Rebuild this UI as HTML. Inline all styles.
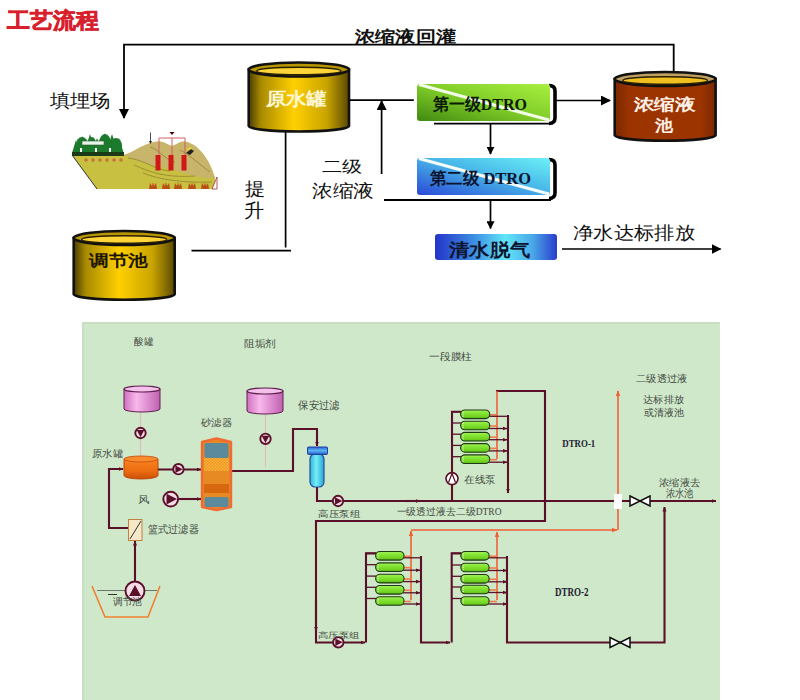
<!DOCTYPE html>
<html><head><meta charset="utf-8">
<style>
html,body{margin:0;padding:0;background:#fff;width:800px;height:700px;overflow:hidden}
svg{display:block}
text{font-family:"Liberation Serif",serif}
.s{font-family:"Liberation Sans",sans-serif}
</style></head><body>
<svg width="800" height="700" viewBox="0 0 800 700">
<defs>
<linearGradient id="gold" x1="0" x2="1" y1="0" y2="0">
<stop offset="0" stop-color="#4a3c00"/>
<stop offset="0.12" stop-color="#a88a00"/>
<stop offset="0.45" stop-color="#ffd000"/>
<stop offset="0.78" stop-color="#c8a400"/>
<stop offset="1" stop-color="#5a4800"/>
</linearGradient>
<linearGradient id="rust" x1="0" x2="1" y1="0" y2="0">
<stop offset="0" stop-color="#7a2800"/>
<stop offset="0.15" stop-color="#9c3400"/>
<stop offset="0.85" stop-color="#9c3400"/>
<stop offset="1" stop-color="#7a2800"/>
</linearGradient>
<marker id="ar2" viewBox="0 0 10 10" refX="9" refY="5" markerWidth="8" markerHeight="8" markerUnits="userSpaceOnUse" orient="auto"><path d="M0,0 L10,5 L0,10 z" fill="#000"/></marker>
<marker id="ar" viewBox="0 0 10 10" refX="9" refY="5" markerWidth="10" markerHeight="10" markerUnits="userSpaceOnUse" orient="auto"><path d="M0,0 L10,5 L0,10 z" fill="#000"/></marker>
</defs>

<!-- title -->

<!-- recirculation line -->
<path d="M673.7,72 V44.6 H124 V118" fill="none" stroke="#000" stroke-width="1.8" marker-end="url(#ar)"/>

<!-- tanks -->
<path d="M248.7,69.5 V126.0 A50.150000000000006,5.5 0 0 0 349,126.0 V69.5 Z" fill="url(#gold)" stroke="#111" stroke-width="2.6"/>
<ellipse cx="298.85" cy="69.5" rx="50.150000000000006" ry="7" fill="#b89600" stroke="#111" stroke-width="2.6"/>
<ellipse cx="298.85" cy="71.0" rx="42.150000000000006" ry="3.8" fill="#ffd438" stroke="#2a2000" stroke-width="1.4"/>
<path d="M73.7,238 V294.2 A50.49999999999999,5.5 0 0 0 174.7,294.2 V238 Z" fill="url(#gold)" stroke="#111" stroke-width="2.6"/>
<ellipse cx="124.19999999999999" cy="238" rx="50.49999999999999" ry="7" fill="#b89600" stroke="#111" stroke-width="2.6"/>
<ellipse cx="124.19999999999999" cy="239.5" rx="42.49999999999999" ry="3.8" fill="#ffd438" stroke="#2a2000" stroke-width="1.4"/>
<path d="M614.7,79 V135.2 A50.44999999999999,5.5 0 0 0 715.6,135.2 V79 Z" fill="url(#rust)" stroke="#111" stroke-width="2.6"/>
<ellipse cx="665.1500000000001" cy="79" rx="50.44999999999999" ry="7" fill="#c0a060" stroke="#111" stroke-width="2.6"/>
<ellipse cx="665.1500000000001" cy="80.5" rx="42.44999999999999" ry="3.8" fill="#f0c020" stroke="#2a2000" stroke-width="1.4"/>

<!-- lines -->
<g stroke="#000" stroke-width="1.7" fill="none">
<path d="M349,100.2 H413.8"/>
<path d="M381.6,174 V101" marker-end="url(#ar)"/>
<path d="M285.6,132 V247.5"/>
<path d="M191.5,250.6 H291"/>
<path d="M556,100.5 H610" marker-end="url(#ar)"/>
<path d="M490.5,124 V154" marker-end="url(#ar2)"/>
<path d="M490.5,199 V228.5" marker-end="url(#ar2)"/>
<path d="M562,249 H720.5" marker-end="url(#ar)"/>
</g>

<!-- DTRO boxes -->
<defs>
<linearGradient id="g1" x1="1" y1="0" x2="0" y2="1">
<stop offset="0" stop-color="#a8f040"/><stop offset="0.5" stop-color="#80cc28"/><stop offset="1" stop-color="#408a10"/>
</linearGradient>
<linearGradient id="g2" x1="1" y1="0" x2="0" y2="1">
<stop offset="0" stop-color="#6cf0f8"/><stop offset="0.45" stop-color="#48b8e8"/><stop offset="1" stop-color="#2a48d8"/>
</linearGradient>
<linearGradient id="g3" x1="0" y1="0" x2="1" y2="0">
<stop offset="0" stop-color="#2434c8"/><stop offset="0.3" stop-color="#3a88e0"/><stop offset="0.58" stop-color="#62e6f8"/><stop offset="0.8" stop-color="#4aa8e8"/><stop offset="1" stop-color="#2a3ccc"/>
</linearGradient>
</defs>
<path d="M549,85.5 Q555,85.5 555,91 V118 Q555,123.5 549,123.5" stroke="#000" stroke-width="3.6" fill="none"/>
<path d="M434,123.6 H551" stroke="#000" stroke-width="1.8"/>
<rect x="417" y="84" width="133" height="37" rx="3" fill="url(#g1)"/>
<path d="M419,84.5 L549,120" stroke="#f2fae8" stroke-width="3.2"/>

<path d="M549,159.5 Q555,159.5 555,165 V193 Q555,198.5 549,198.5" stroke="#000" stroke-width="3.6" fill="none"/>
<path d="M384,200 H551" stroke="#000" stroke-width="1.8"/>
<rect x="417" y="158" width="133" height="37" rx="3" fill="url(#g2)"/>
<path d="M419,158.5 L549,194" stroke="#f2fafa" stroke-width="3.2"/>

<rect x="435" y="234" width="122" height="26" rx="3" fill="url(#g3)"/>

<!-- landfill -->
<g>
<path d="M72,155 L124,155 C135,152 145,142 159,141.5 C165,141.5 169,146 172,146 C176,145 179,141.5 184,141.5 C198,143 210,160 215,178 L215,189 L97,189 Z" fill="#c8c040"/>
<path d="M124,155 C135,152 145,142 159,141.5 C165,141.5 169,146 172,146 C176,145 179,141.5 184,141.5 C198,143 210,160 215,178 L205,178 C190,176 178,170 165,168 C150,166 135,160 124,155 Z" fill="#c8b46a"/>
<path d="M128,158 C145,160 155,170 170,171 M134,165 C150,172 165,178 195,176 M143,173 C160,180 185,183 212,182 M150,147 C160,150 165,160 175,162 M180,150 C190,155 200,165 210,172" stroke="#8a7a30" stroke-width="0.7" fill="none"/>
<path d="M72,155 L97,189" stroke="#333" stroke-width="1"/>
<g fill="#1c7a2c">
<path d="M72,153 L76,140 L80,153 Z"/><path d="M76,153 L82,136 L88,153 Z"/><path d="M84,153 L90,134 L96,153 Z"/>
<path d="M92,153 L97,138 L102,153 Z"/><path d="M99,153 L105,133 L111,153 Z"/><path d="M106,153 L112,134 L118,153 Z"/><path d="M113,154 L119,138 L124,154 Z"/>
<ellipse cx="82" cy="145" rx="6" ry="8"/><ellipse cx="105" cy="143" rx="6" ry="9"/><ellipse cx="116" cy="146" rx="6" ry="8"/><ellipse cx="92" cy="144" rx="4" ry="7"/>
</g>
<path d="M72,152 H124 V156 H72 Z" fill="#1a3a18"/>
<rect x="82" y="141" width="22" height="4" fill="#e8f4e8" stroke="#2a5a2a" stroke-width="0.6"/>
<g fill="#fff"><rect x="80" y="148" width="2" height="4"/><rect x="95" y="148" width="2" height="4"/><rect x="109" y="148" width="2" height="4"/></g>
<g fill="#c87040"><circle cx="86" cy="160" r="1.8"/><circle cx="93" cy="160" r="1.8"/><circle cx="100" cy="160" r="1.8"/><circle cx="107" cy="160" r="1.8"/><circle cx="114" cy="160" r="1.8"/><circle cx="121" cy="160" r="1.8"/></g>
<path d="M159,155 V138 H185 V155 M172,138 V155" stroke="#d06060" stroke-width="1" fill="none"/>
<g fill="#d01818"><rect x="155.5" y="155" width="5" height="15.5"/><rect x="168.5" y="155" width="5" height="15.5"/><rect x="181.5" y="155" width="5" height="15.5"/></g>
<path d="M169.5,132 h5 l-2.5,3 z" fill="#500"/>
<path d="M150.5,132.5 V143" stroke="#222" stroke-width="0.8"/><path d="M149,141 l1.5,3 l1.5,-3 z" fill="#222"/>
<g fill="#b85018"><path d="M149,189 l1,-6 l2,3 l1,-4 l1,4 l2,-3 l1,6 z"/><path d="M162,189 l1,-6 l2,3 l1,-4 l1,4 l2,-3 l1,6 z"/><path d="M174,189 l1,-6 l2,3 l1,-4 l1,4 l2,-3 l1,6 z"/><path d="M188,189 l1,-6 l2,3 l1,-4 l1,4 l2,-3 l1,6 z"/><path d="M201,189 l1,-6 l2,3 l1,-4 l1,4 l2,-3 l1,6 z"/></g>
<path d="M212,189 L217,177 V189 Z" fill="#fff" stroke="#a03030" stroke-width="0.8"/>
<path d="M186,153 l5,-4 l3,2 l-4,4 z" fill="#222"/><path d="M186,150 l4,-3 l2,2 z" fill="#f0e020"/>
</g>
<!-- panel -->
<rect x="82" y="322" width="638" height="378" fill="#d0e8ca"/>
<path d="M83,700 V323 H719" fill="none" stroke="#c6d8c2" stroke-width="1.5"/>
<defs>
<linearGradient id="pink" x1="0" x2="1" y1="0" y2="0">
<stop offset="0" stop-color="#d070c0"/><stop offset="0.35" stop-color="#f8b8ec"/><stop offset="1" stop-color="#c060b0"/>
</linearGradient>
<linearGradient id="orng" x1="0" x2="0" y1="0" y2="1">
<stop offset="0" stop-color="#fa8424"/><stop offset="0.6" stop-color="#ec6c10"/><stop offset="1" stop-color="#c85008"/>
</linearGradient>
<linearGradient id="cyl" x1="0" x2="0" y1="0" y2="1">
<stop offset="0" stop-color="#a8f060"/><stop offset="0.3" stop-color="#88e838"/><stop offset="0.8" stop-color="#70d020"/><stop offset="1" stop-color="#50a818"/>
</linearGradient>
<linearGradient id="cart" x1="0" x2="1" y1="0" y2="0">
<stop offset="0" stop-color="#38b0d8"/><stop offset="0.45" stop-color="#70f0fa"/><stop offset="1" stop-color="#30a0d0"/>
</linearGradient>
<linearGradient id="cap" x1="0" x2="0" y1="0" y2="1"><stop offset="0" stop-color="#3060d8"/><stop offset="0.5" stop-color="#58b8f0"/><stop offset="1" stop-color="#2850c8"/></linearGradient>
<pattern id="chk" width="3" height="3" patternUnits="userSpaceOnUse">
<rect width="3" height="3" fill="#f08a20"/><rect width="1.5" height="1.5" fill="#f8c040"/><rect x="1.5" y="1.5" width="1.5" height="1.5" fill="#f8c040"/>
</pattern>
<marker id="am" viewBox="0 0 10 10" refX="9" refY="5" markerWidth="5" markerHeight="5" markerUnits="userSpaceOnUse" orient="auto"><path d="M0,1 L10,5 L0,9 z" fill="#5a1028"/></marker>
<marker id="ao" viewBox="0 0 10 10" refX="9" refY="5" markerWidth="6" markerHeight="6" markerUnits="userSpaceOnUse" orient="auto"><path d="M0,1 L10,5 L0,9 z" fill="#f06030"/></marker>
<marker id="ak" viewBox="0 0 10 10" refX="9" refY="5" markerWidth="7" markerHeight="7" markerUnits="userSpaceOnUse" orient="auto"><path d="M0,1 L10,5 L0,9 z" fill="#111"/></marker>
<g id="pumpR"><circle r="5.2" fill="#f4dce8" stroke="#5a1028" stroke-width="1.9"/><path d="M-3,-3.8 L4.3,0 L-3,3.8 z" fill="#5a1028"/></g>
<g id="pumpD"><circle r="5.2" fill="#f4dce8" stroke="#5a1028" stroke-width="1.9"/><path d="M-3.8,-3 L3.8,-3 L0,4.3 z" fill="#5a1028"/></g>
<g id="mod">
<path d="M0,0 V-5" fill="none"/>
</g>
</defs>

<!-- chemical tanks -->
<path d="M140.5,412 V456" stroke="#e0bcbc" stroke-width="1.2"/>
<path d="M124,389 V409 A18,3 0 0 0 160,409 V389 Z" fill="url(#pink)" stroke="#602050" stroke-width="1"/>
<ellipse cx="142" cy="389" rx="18" ry="3" fill="#f4c0ec" stroke="#602050" stroke-width="1.2"/>
<use href="#pumpD" x="140.5" y="433"/>
<path d="M265.5,414 V467" stroke="#e0bcbc" stroke-width="1.2"/>
<path d="M247,391 V411 A18,3 0 0 0 283,411 V391 Z" fill="url(#pink)" stroke="#602050" stroke-width="1"/>
<ellipse cx="265" cy="391" rx="18" ry="3" fill="#f4c0ec" stroke="#602050" stroke-width="1.2"/>
<use href="#pumpD" x="265.5" y="438.8"/>

<!-- raw water tank -->
<path d="M124,459 V475.5 A17,3.5 0 0 0 158,475.5 V459 Z" fill="url(#orng)" stroke="#c04808" stroke-width="1"/>
<ellipse cx="141" cy="459" rx="17" ry="3" fill="#f88c2c" stroke="#c85010" stroke-width="0.9"/>

<!-- pipes maroon -->
<g fill="none" stroke="#5a1028" stroke-width="2.1">
<path d="M158,469.5 H201" marker-end="url(#am)"/>
<path d="M134,540 V528 H109 V469 H123" marker-end="url(#am)"/>
<path d="M135,582 V541" marker-end="url(#am)"/>
<path d="M178,499 H201" marker-end="url(#am)"/>
<path d="M232,471 H293 V429 H317 V446" marker-end="url(#am)"/>
<path d="M317,487 V501 H716" marker-end="url(#am)"/>
<path d="M545,391 V521 H316 V642.5 H365" marker-end="url(#am)"/>
<path d="M316,600 V631" marker-end="url(#am)"/>
<path d="M496,391 H546"/>
<path d="M421,556 V642.5 H450" marker-end="url(#am)"/>
<path d="M451.7,642.5 V553.4 H461"/>
<path d="M366,642.5 V553.4 H376"/>
<path d="M507,556 V642.5 H664.5 V507" marker-end="url(#am)"/>
<path d="M452,501 V411.8 H461"/>
<path d="M405,501 H420" marker-end="url(#am)"/>
<path d="M508,415 V493" marker-end="url(#am)"/>
</g>
<use href="#pumpR" x="178.4" y="469.2"/>
<g><circle cx="170.7" cy="499.1" r="7.4" fill="#f4dce8" stroke="#5a1028" stroke-width="1.9"/><path d="M166.5,493.8 L177,499.1 L166.5,504.4 z" fill="#5a1028"/></g>
<use href="#pumpR" x="338" y="501"/>
<use href="#pumpR" x="338.3" y="642.3"/>

<!-- sand filter -->
<path d="M202,442 L216.5,438.5 L231,442 V507 L216.5,510 L202,507 Z" fill="#e88a24" stroke="#f06a34" stroke-width="2.4" stroke-linejoin="round"/>
<rect x="204.5" y="443" width="24" height="15" rx="2" fill="#5a8a9c"/>
<rect x="204" y="458" width="25" height="13" fill="url(#chk)"/>
<rect x="204" y="484" width="25" height="9" fill="#d86810"/>
<rect x="204.5" y="497" width="24" height="10" rx="2" fill="#5a8a9c"/>

<!-- cartridge -->
<rect x="310" y="454" width="14" height="33" rx="5" fill="url(#cart)" stroke="#2050a0" stroke-width="1.2"/>
<rect x="307.5" y="447" width="20" height="7.5" rx="1" fill="url(#cap)" stroke="#2040a0" stroke-width="1"/>

<!-- basket filter & basin -->
<rect x="128.5" y="519.5" width="13.5" height="21" fill="#f4e8c8" stroke="#c08040" stroke-width="1"/>
<path d="M130,539 L141,521" stroke="#333" stroke-width="1"/>
<path d="M92,586 L105,617 H148 L160,586" fill="none" stroke="#f08030" stroke-width="1.6"/>
<path d="M97,590.5 H157" stroke="#555" stroke-width="0.8"/>
<path d="M108,594.5 H117" stroke="#333" stroke-width="1"/>
<circle cx="135" cy="591" r="9.5" fill="#f4dce8" stroke="#5a1028" stroke-width="1.9"/>
<path d="M135,585 L141,596 H129 z" fill="#5a1028"/>

<!-- orange permeate lines -->
<g fill="none" stroke="#f06038" stroke-width="1.6">
<path d="M618,530 V391" marker-end="url(#ao)"/>
<path d="M411,600 V531" marker-end="url(#ao)"/>
<path d="M411,530 H617" marker-end="url(#ao)"/>
<path d="M497,600 V532" marker-end="url(#ao)"/>
<path d="M497,459 V391"/>
</g>

<!-- membrane modules -->
<path d="M452,411.8 H461.6" stroke="#5a1028" stroke-width="1.3"/>
<path d="M452,423.0 H461.6" stroke="#5a1028" stroke-width="1.3"/>
<path d="M452,434.2 H461.6" stroke="#5a1028" stroke-width="1.3"/>
<path d="M452,445.4 H461.6" stroke="#5a1028" stroke-width="1.3"/>
<path d="M452,456.7 H461.6" stroke="#5a1028" stroke-width="1.3"/>
<path d="M488.7,414.8 H497" stroke="#f07a48" stroke-width="1.6"/>
<path d="M488.7,426.0 H497" stroke="#f07a48" stroke-width="1.6"/>
<path d="M488.7,437.2 H497" stroke="#f07a48" stroke-width="1.6"/>
<path d="M488.7,448.4 H497" stroke="#f07a48" stroke-width="1.6"/>
<path d="M488.7,459.7 H497" stroke="#f07a48" stroke-width="1.6"/>
<path d="M488.7,416.3 H508" stroke="#5a1028" stroke-width="1.3"/>
<path d="M488.7,428.5 H507" stroke="#5a1028" stroke-width="1.3" marker-end="url(#am)"/>
<path d="M488.7,439.7 H507" stroke="#5a1028" stroke-width="1.3" marker-end="url(#am)"/>
<path d="M488.7,450.9 H507" stroke="#5a1028" stroke-width="1.3" marker-end="url(#am)"/>
<path d="M488.7,462.2 H507" stroke="#5a1028" stroke-width="1.3" marker-end="url(#am)"/>
<rect x="460.6" y="410.0" width="29.099999999999966" height="8.6" rx="4.3" fill="url(#cyl)" stroke="#1e3a10" stroke-width="1.1"/>
<path d="M463.1,411.8 v5" stroke="#e8f0e0" stroke-width="1.2" stroke-dasharray="1,1"/>
<rect x="460.6" y="421.2" width="29.099999999999966" height="8.6" rx="4.3" fill="url(#cyl)" stroke="#1e3a10" stroke-width="1.1"/>
<path d="M463.1,423.0 v5" stroke="#e8f0e0" stroke-width="1.2" stroke-dasharray="1,1"/>
<rect x="460.6" y="432.4" width="29.099999999999966" height="8.6" rx="4.3" fill="url(#cyl)" stroke="#1e3a10" stroke-width="1.1"/>
<path d="M463.1,434.2 v5" stroke="#e8f0e0" stroke-width="1.2" stroke-dasharray="1,1"/>
<rect x="460.6" y="443.6" width="29.099999999999966" height="8.6" rx="4.3" fill="url(#cyl)" stroke="#1e3a10" stroke-width="1.1"/>
<path d="M463.1,445.4 v5" stroke="#e8f0e0" stroke-width="1.2" stroke-dasharray="1,1"/>
<rect x="460.6" y="454.9" width="29.099999999999966" height="8.6" rx="4.3" fill="url(#cyl)" stroke="#1e3a10" stroke-width="1.1"/>
<path d="M463.1,456.7 v5" stroke="#e8f0e0" stroke-width="1.2" stroke-dasharray="1,1"/>
<path d="M366,553.3 H376.6" stroke="#5a1028" stroke-width="1.3"/>
<path d="M366,564.7 H376.6" stroke="#5a1028" stroke-width="1.3"/>
<path d="M366,576.1 H376.6" stroke="#5a1028" stroke-width="1.3"/>
<path d="M366,587.3 H376.6" stroke="#5a1028" stroke-width="1.3"/>
<path d="M366,598.5 H376.6" stroke="#5a1028" stroke-width="1.3"/>
<path d="M403,556.3 H411" stroke="#f07a48" stroke-width="1.6"/>
<path d="M403,567.7 H411" stroke="#f07a48" stroke-width="1.6"/>
<path d="M403,579.1 H411" stroke="#f07a48" stroke-width="1.6"/>
<path d="M403,590.3 H411" stroke="#f07a48" stroke-width="1.6"/>
<path d="M403,601.5 H411" stroke="#f07a48" stroke-width="1.6"/>
<path d="M403,557.8 H421" stroke="#5a1028" stroke-width="1.3"/>
<path d="M403,570.2 H420" stroke="#5a1028" stroke-width="1.3" marker-end="url(#am)"/>
<path d="M403,581.6 H420" stroke="#5a1028" stroke-width="1.3" marker-end="url(#am)"/>
<path d="M403,592.8 H420" stroke="#5a1028" stroke-width="1.3" marker-end="url(#am)"/>
<path d="M403,604.0 H420" stroke="#5a1028" stroke-width="1.3" marker-end="url(#am)"/>
<rect x="375.6" y="551.5" width="28.399999999999977" height="8.6" rx="4.3" fill="url(#cyl)" stroke="#1e3a10" stroke-width="1.1"/>
<path d="M378.1,553.3 v5" stroke="#e8f0e0" stroke-width="1.2" stroke-dasharray="1,1"/>
<rect x="375.6" y="562.9" width="28.399999999999977" height="8.6" rx="4.3" fill="url(#cyl)" stroke="#1e3a10" stroke-width="1.1"/>
<path d="M378.1,564.7 v5" stroke="#e8f0e0" stroke-width="1.2" stroke-dasharray="1,1"/>
<rect x="375.6" y="574.3" width="28.399999999999977" height="8.6" rx="4.3" fill="url(#cyl)" stroke="#1e3a10" stroke-width="1.1"/>
<path d="M378.1,576.1 v5" stroke="#e8f0e0" stroke-width="1.2" stroke-dasharray="1,1"/>
<rect x="375.6" y="585.5" width="28.399999999999977" height="8.6" rx="4.3" fill="url(#cyl)" stroke="#1e3a10" stroke-width="1.1"/>
<path d="M378.1,587.3 v5" stroke="#e8f0e0" stroke-width="1.2" stroke-dasharray="1,1"/>
<rect x="375.6" y="596.7" width="28.399999999999977" height="8.6" rx="4.3" fill="url(#cyl)" stroke="#1e3a10" stroke-width="1.1"/>
<path d="M378.1,598.5 v5" stroke="#e8f0e0" stroke-width="1.2" stroke-dasharray="1,1"/>
<path d="M451.7,553.3 H461.8" stroke="#5a1028" stroke-width="1.3"/>
<path d="M451.7,565.0 H461.8" stroke="#5a1028" stroke-width="1.3"/>
<path d="M451.7,576.3 H461.8" stroke="#5a1028" stroke-width="1.3"/>
<path d="M451.7,587.0 H461.8" stroke="#5a1028" stroke-width="1.3"/>
<path d="M451.7,598.5 H461.8" stroke="#5a1028" stroke-width="1.3"/>
<path d="M488.1,556.3 H497" stroke="#f07a48" stroke-width="1.6"/>
<path d="M488.1,568.0 H497" stroke="#f07a48" stroke-width="1.6"/>
<path d="M488.1,579.3 H497" stroke="#f07a48" stroke-width="1.6"/>
<path d="M488.1,590.0 H497" stroke="#f07a48" stroke-width="1.6"/>
<path d="M488.1,601.5 H497" stroke="#f07a48" stroke-width="1.6"/>
<path d="M488.1,557.8 H508" stroke="#5a1028" stroke-width="1.3"/>
<path d="M488.1,570.5 H507" stroke="#5a1028" stroke-width="1.3" marker-end="url(#am)"/>
<path d="M488.1,581.8 H507" stroke="#5a1028" stroke-width="1.3" marker-end="url(#am)"/>
<path d="M488.1,592.5 H507" stroke="#5a1028" stroke-width="1.3" marker-end="url(#am)"/>
<path d="M488.1,604.0 H507" stroke="#5a1028" stroke-width="1.3" marker-end="url(#am)"/>
<rect x="460.8" y="551.5" width="28.30000000000001" height="8.6" rx="4.3" fill="url(#cyl)" stroke="#1e3a10" stroke-width="1.1"/>
<path d="M463.3,553.3 v5" stroke="#e8f0e0" stroke-width="1.2" stroke-dasharray="1,1"/>
<rect x="460.8" y="563.2" width="28.30000000000001" height="8.6" rx="4.3" fill="url(#cyl)" stroke="#1e3a10" stroke-width="1.1"/>
<path d="M463.3,565.0 v5" stroke="#e8f0e0" stroke-width="1.2" stroke-dasharray="1,1"/>
<rect x="460.8" y="574.5" width="28.30000000000001" height="8.6" rx="4.3" fill="url(#cyl)" stroke="#1e3a10" stroke-width="1.1"/>
<path d="M463.3,576.3 v5" stroke="#e8f0e0" stroke-width="1.2" stroke-dasharray="1,1"/>
<rect x="460.8" y="585.2" width="28.30000000000001" height="8.6" rx="4.3" fill="url(#cyl)" stroke="#1e3a10" stroke-width="1.1"/>
<path d="M463.3,587.0 v5" stroke="#e8f0e0" stroke-width="1.2" stroke-dasharray="1,1"/>
<rect x="460.8" y="596.7" width="28.30000000000001" height="8.6" rx="4.3" fill="url(#cyl)" stroke="#1e3a10" stroke-width="1.1"/>
<path d="M463.3,598.5 v5" stroke="#e8f0e0" stroke-width="1.2" stroke-dasharray="1,1"/>
<g><circle cx="452" cy="478.6" r="6" fill="#fff" stroke="#5a1028" stroke-width="1.6"/><path d="M448.5,482.5 L452,473.5 L455.5,482.5" fill="none" stroke="#5a1028" stroke-width="1.2"/></g>
<rect x="614" y="494" width="8" height="15" fill="#fff"/>
<path d="M630,496 L650,506 V496 L630,506 Z" fill="#fff" stroke="#111" stroke-width="1.5"/>
<path d="M610,637.5 L630,647.5 V637.5 L610,647.5 Z" fill="#fff" stroke="#111" stroke-width="1.5"/>

<!--TEXTS-->
<text x="7.00" y="28.00" font-family="Liberation Sans" font-size="22.09" font-weight="bold" fill="#d8202c" stroke="#d8202c" stroke-width="0.6" textLength="92.00" lengthAdjust="spacingAndGlyphs">工艺流程</text>
<text x="355.00" y="42.00" font-family="Liberation Serif" font-size="16.06" font-weight="bold" fill="#111" textLength="101.00" lengthAdjust="spacingAndGlyphs">浓缩液回灌</text>
<text x="49.50" y="107.00" font-family="Liberation Serif" font-size="17.94" font-weight="500" fill="#111" textLength="61.00" lengthAdjust="spacingAndGlyphs">填埋场</text>
<text x="265.50" y="105.40" font-family="Liberation Serif" font-size="18.00" font-weight="bold" fill="#fff8d8" textLength="61.20" lengthAdjust="spacingAndGlyphs">原水罐</text>
<text x="89.00" y="265.50" font-family="Liberation Serif" font-size="16.01" font-weight="bold" fill="#1a1400" textLength="59.00" lengthAdjust="spacingAndGlyphs">调节池</text>
<text x="633.50" y="109.70" font-family="Liberation Serif" font-size="15.60" font-weight="bold" fill="#fff0e8" textLength="62.00" lengthAdjust="spacingAndGlyphs">浓缩液</text>
<text x="655.00" y="130.70" font-family="Liberation Serif" font-size="16.31" font-weight="bold" fill="#fff0e8" textLength="18.00" lengthAdjust="spacingAndGlyphs">池</text>
<text x="245.10" y="195.30" font-family="Liberation Serif" font-size="18.37" font-weight="500" fill="#111" textLength="20.20" lengthAdjust="spacingAndGlyphs">提</text>
<text x="244.10" y="216.80" font-family="Liberation Serif" font-size="18.58" font-weight="500" fill="#111" textLength="20.20" lengthAdjust="spacingAndGlyphs">升</text>
<text x="322.20" y="171.80" font-family="Liberation Serif" font-size="16.32" font-weight="500" fill="#111" textLength="40.40" lengthAdjust="spacingAndGlyphs">二级</text>
<text x="312.00" y="197.40" font-family="Liberation Serif" font-size="18.37" font-weight="500" fill="#111" textLength="62.00" lengthAdjust="spacingAndGlyphs">浓缩液</text>
<text x="573.00" y="239.00" font-family="Liberation Serif" font-size="18.06" font-weight="500" fill="#111" textLength="122.00" lengthAdjust="spacingAndGlyphs">净水达标排放</text>
<text x="433.00" y="110.00" font-family="Liberation Serif" font-size="17.07" font-weight="bold" fill="#0c1a08" textLength="94.00" lengthAdjust="spacingAndGlyphs">第一级DTRO</text>
<text x="430.00" y="184.00" font-family="Liberation Serif" font-size="17.00" font-weight="bold" fill="#0c1430" textLength="101.00" lengthAdjust="spacingAndGlyphs">第二级 DTRO</text>
<text x="449.00" y="256.00" font-family="Liberation Serif" font-size="18.00" font-weight="bold" fill="#0c1430" textLength="81.00" lengthAdjust="spacingAndGlyphs">清水脱气</text>
<text x="134.00" y="345.00" font-family="Liberation Sans" font-size="10.00" font-weight="500" fill="#424a42" textLength="19.00" lengthAdjust="spacingAndGlyphs">酸罐</text>
<text x="244.00" y="347.00" font-family="Liberation Sans" font-size="10.10" font-weight="500" fill="#424a42" textLength="32.00" lengthAdjust="spacingAndGlyphs">阻垢剂</text>
<text x="298.20" y="409.00" font-family="Liberation Sans" font-size="11.11" font-weight="500" fill="#424a42" textLength="41.40" lengthAdjust="spacingAndGlyphs">保安过滤</text>
<text x="201.00" y="425.80" font-family="Liberation Sans" font-size="10.22" font-weight="500" fill="#424a42" textLength="31.00" lengthAdjust="spacingAndGlyphs">砂滤器</text>
<text x="92.00" y="457.00" font-family="Liberation Sans" font-size="10.45" font-weight="500" fill="#424a42" textLength="31.20" lengthAdjust="spacingAndGlyphs">原水罐</text>
<text x="138.00" y="503.00" font-family="Liberation Sans" font-size="10.00" font-weight="500" fill="#424a42" textLength="11.40" lengthAdjust="spacingAndGlyphs">风</text>
<text x="147.90" y="532.80" font-family="Liberation Sans" font-size="10.67" font-weight="500" fill="#424a42" textLength="50.80" lengthAdjust="spacingAndGlyphs">篮式过滤器</text>
<text x="113.00" y="605.20" font-family="Liberation Sans" font-size="10.45" font-weight="500" fill="#424a42" textLength="29.00" lengthAdjust="spacingAndGlyphs">调节池</text>
<text x="318.00" y="516.60" font-family="Liberation Sans" font-size="8.82" font-weight="500" fill="#424a42" textLength="42.00" lengthAdjust="spacingAndGlyphs">高压泵组</text>
<text x="317.90" y="638.00" font-family="Liberation Sans" font-size="8.41" font-weight="500" fill="#424a42" textLength="41.80" lengthAdjust="spacingAndGlyphs">高压泵组</text>
<text x="429.00" y="360.00" font-family="Liberation Sans" font-size="10.03" font-weight="500" fill="#424a42" textLength="43.00" lengthAdjust="spacingAndGlyphs">一段膜柱</text>
<text x="464.20" y="482.50" font-family="Liberation Sans" font-size="10.45" font-weight="500" fill="#424a42" textLength="31.40" lengthAdjust="spacingAndGlyphs">在线泵</text>
<text x="396.50" y="515.20" font-family="Liberation Sans" font-size="9.57" font-weight="500" fill="#424a42" textLength="105.00" lengthAdjust="spacingAndGlyphs">一级透过液去二级DTRO</text>
<text x="636.00" y="382.10" font-family="Liberation Sans" font-size="10.45" font-weight="500" fill="#424a42" textLength="51.40" lengthAdjust="spacingAndGlyphs">二级透过液</text>
<text x="643.00" y="402.70" font-family="Liberation Sans" font-size="10.22" font-weight="500" fill="#424a42" textLength="41.00" lengthAdjust="spacingAndGlyphs">达标排放</text>
<text x="644.00" y="416.00" font-family="Liberation Sans" font-size="10.00" font-weight="500" fill="#424a42" textLength="40.00" lengthAdjust="spacingAndGlyphs">或清液池</text>
<text x="659.00" y="486.10" font-family="Liberation Sans" font-size="10.45" font-weight="500" fill="#424a42" textLength="41.00" lengthAdjust="spacingAndGlyphs">浓缩液去</text>
<text x="665.90" y="496.80" font-family="Liberation Sans" font-size="10.68" font-weight="500" fill="#424a42" textLength="27.60" lengthAdjust="spacingAndGlyphs">浓水池</text>
<text x="562.30" y="447.20" font-family="Liberation Serif" font-size="11.12" font-weight="bold" fill="#223" textLength="33.00" lengthAdjust="spacingAndGlyphs">DTRO-1</text>
<text x="555.00" y="596.40" font-family="Liberation Serif" font-size="13.23" font-weight="bold" fill="#223" textLength="33.60" lengthAdjust="spacingAndGlyphs">DTRO-2</text>
<!--/TEXTS-->
</svg>
</body></html>
